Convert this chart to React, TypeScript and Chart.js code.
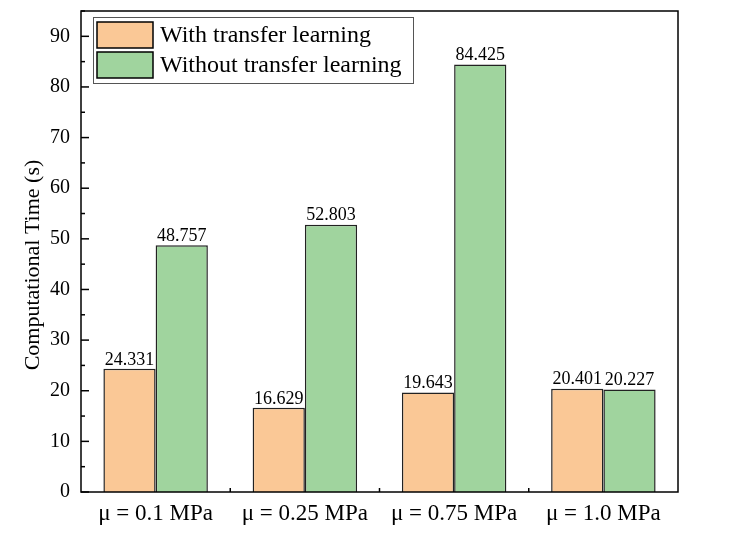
import React, { useEffect, useRef } from "react";
import { Chart, registerables } from "chart.js";

Chart.register(...registerables);

const categories = ["μ = 0.1 MPa", "μ = 0.25 MPa", "μ = 0.75 MPa", "μ = 1.0 MPa"];
const withTransfer = [24.331, 16.629, 19.643, 20.401];
const withoutTransfer = [48.757, 52.803, 84.425, 20.227];
const seriesLabels = ["With transfer learning", "Without transfer learning"];
const seriesColors = ["#FAC896", "#A0D49E"];
const yTicks = [0, 10, 20, 30, 40, 50, 60, 70, 80, 90];
const yMin = 0;
const yMax = 95;
const yMinorStep = 5;

const FONT = "'Liberation Serif', 'Times New Roman', serif";

const decorPlugin = {
  id: "decor",
  afterDatasetsDraw(chart: any) {
    const ctx = chart.ctx;
    const { left, right, top, bottom } = chart.chartArea;
    const yScale = chart.scales.y;
    const xScale = chart.scales.x;
    ctx.save();

    // value labels
    ctx.fillStyle = "#000";
    ctx.font = `18px ${FONT}`;
    ctx.textAlign = "center";
    ctx.textBaseline = "bottom";
    chart.data.datasets.forEach((ds: any, di: number) => {
      const meta = chart.getDatasetMeta(di);
      meta.data.forEach((bar: any, i: number) => {
        ctx.fillText(ds.data[i].toFixed(3), bar.x, bar.y);
      });
    });

    // frame
    ctx.strokeStyle = "#000";
    ctx.lineWidth = 1.5;
    ctx.strokeRect(left, top, right - left, bottom - top);

    // y ticks inside (major + minor)
    for (let v = yMin; v <= yMax; v += yMinorStep) {
      const py = yScale.getPixelForValue(v);
      const len = yTicks.includes(v) ? 8 : 4;
      ctx.beginPath();
      ctx.moveTo(left, py);
      ctx.lineTo(left + len, py);
      ctx.stroke();
    }
    // x ticks at category boundaries
    for (let i = 1; i < categories.length; i++) {
      const px = (xScale.getPixelForValue(i - 1) + xScale.getPixelForValue(i)) / 2;
      ctx.beginPath();
      ctx.moveTo(px, bottom);
      ctx.lineTo(px, bottom - 4);
      ctx.stroke();
    }

    // y title
    ctx.save();
    ctx.translate(33, 265);
    ctx.rotate(-Math.PI / 2);
    ctx.font = `22px ${FONT}`;
    ctx.fillStyle = "#000";
    ctx.textAlign = "center";
    ctx.textBaseline = "middle";
    ctx.fillText("Computational Time (s)", 0, 0);
    ctx.restore();

    // legend
    const lx = left + 12;
    const ly = top + 6;
    const lw = 320;
    const lh = 66;
    ctx.fillStyle = "#fff";
    ctx.fillRect(lx, ly, lw, lh);
    ctx.strokeStyle = "#555";
    ctx.lineWidth = 1;
    ctx.strokeRect(lx + 0.5, ly + 0.5, lw, lh);
    ctx.font = `24px ${FONT}`;
    ctx.textAlign = "left";
    ctx.textBaseline = "middle";
    seriesLabels.forEach((lab, i) => {
      const by = ly + 5 + i * 30;
      ctx.fillStyle = seriesColors[i];
      ctx.fillRect(lx + 4, by, 56, 26);
      ctx.strokeStyle = "#000";
      ctx.lineWidth = 1.5;
      ctx.strokeRect(lx + 4, by, 56, 26);
      ctx.fillStyle = "#000";
      ctx.fillText(lab, lx + 67, by + 14);
    });

    ctx.restore();
  },
};

export default function App() {
  const ref = useRef<HTMLCanvasElement>(null);
  useEffect(() => {
    if (!ref.current) return;
    const chart = new Chart(ref.current, {
      type: "bar",
      data: {
        labels: categories,
        datasets: [
          {
            label: seriesLabels[0],
            data: withTransfer,
            backgroundColor: seriesColors[0],
            borderColor: "#222",
            borderWidth: 1.5,
            barPercentage: 1,
            categoryPercentage: 0.7,
          },
          {
            label: seriesLabels[1],
            data: withoutTransfer,
            backgroundColor: seriesColors[1],
            borderColor: "#222",
            borderWidth: 1.5,
            barPercentage: 1,
            categoryPercentage: 0.7,
          },
        ],
      },
      options: {
        responsive: false,
        animation: false,
        maintainAspectRatio: false,
        layout: { padding: { left: 0, right: 54, top: 11, bottom: 0 } },
        plugins: { legend: { display: false }, tooltip: { enabled: false } },
        scales: {
          x: {
            grid: { display: false, drawTicks: false },
            border: { display: false },
            ticks: {
              color: "#000",
              font: { family: FONT, size: 23 },
              padding: 8,
              maxRotation: 0,
              autoSkip: false,
            },
            afterFit(scale: any) {
              scale.height = 41;
              scale.paddingLeft = 0;
              scale.paddingRight = 0;
            },
          },
          y: {
            min: yMin,
            max: yMax,
            grid: { display: false, drawTicks: false },
            border: { display: false },
            ticks: {
              color: "#000",
              font: { family: FONT, size: 20, lineHeight: 1.1 },
              padding: 11,
            },
            afterBuildTicks(scale: any) {
              scale.ticks = yTicks.map((v) => ({ value: v }));
            },
            afterFit(scale: any) {
              scale.width = 81;
              scale.paddingTop = 0;
              scale.paddingBottom = 0;
            },
          },
        },
      },
      plugins: [decorPlugin],
    });
    return () => chart.destroy();
  }, []);
  return (
    <div style={{ position: "absolute", left: 0, top: 0, width: 732, height: 533, background: "#fff" }}>
      <canvas ref={ref} width={732} height={533} style={{ width: 732, height: 533 }} />
    </div>
  );
}
